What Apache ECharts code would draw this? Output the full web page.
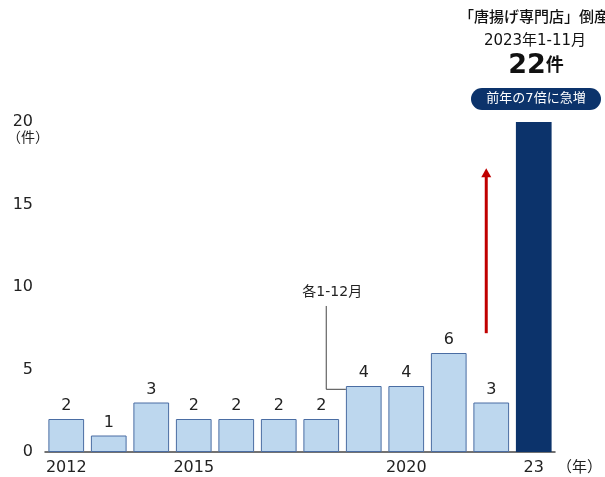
<!DOCTYPE html>
<html>
<head>
<meta charset="utf-8">
<script src="https://cdn.jsdelivr.net/npm/echarts@6/dist/echarts.min.js"></script>
<style>
  html, body { margin: 0; padding: 0; background: #fff; }
  #chart { width: 605px; height: 477px; }
</style>
</head>
<body>
<div id="chart"></div>
<script>
// Annual bankruptcies of karaage (fried chicken) specialty shops
const years = ['2012', '2013', '2014', '2015', '2016', '2017', '2018', '2019', '2020', '2021', '2022', '2023'];
const counts = [2, 1, 3, 2, 2, 2, 2, 4, 4, 6, 3, 22];
const yearTickLabels = { '2012': '2012', '2015': '2015', '2020': '2020', '2023': '23' };
const yTicks = [0, 5, 10, 15, 20];

const FONT = '"DejaVu Sans", "Noto Sans CJK JP", sans-serif';
const LIGHT = '#bdd7ee';
const NAVY = '#0c336b';

const chart = echarts.init(document.getElementById('chart'), null, { renderer: 'canvas' });

const barData = counts.map((v, i) => {
  const last = i === counts.length - 1;
  return {
    value: v,
    itemStyle: last
      ? { color: NAVY, borderColor: NAVY, borderWidth: 0 }
      : { color: LIGHT, borderColor: '#4a6da3', borderWidth: 1 },
    label: { show: !last }
  };
});

chart.setOption({
  animation: false,
  textStyle: { fontFamily: FONT },
  grid: { left: 45, right: 48, top: 122, bottom: 25 },
  xAxis: {
    type: 'category',
    data: years,
    axisLine: { lineStyle: { color: '#444', width: 1.5 } },
    axisTick: { show: false },
    axisLabel: {
      interval: 0,
      fontSize: 16,
      color: '#222',
      margin: 8,
      fontFamily: FONT,
      formatter: v => yearTickLabels[v] || ''
    },
    name: '（年）',
    nameLocation: 'end',
    nameGap: 2,
    nameTextStyle: { fontSize: 15, color: '#222', fontFamily: FONT, verticalAlign: 'top', padding: [9, 0, 0, 0] }
  },
  yAxis: {
    type: 'value',
    min: yTicks[0],
    max: yTicks[yTicks.length - 1],
    interval: 5,
    splitLine: { show: false },
    axisLine: { show: false },
    axisTick: { show: false },
    axisLabel: { fontSize: 16, color: '#222', margin: 12, fontFamily: FONT }
  },
  series: [{
    type: 'bar',
    data: barData,
    barCategoryGap: '16%',
    clip: true,
    label: {
      position: 'top',
      distance: 5,
      fontSize: 16,
      color: '#222',
      fontFamily: FONT
    }
  }]
});

function drawOverlay() {
  const px = (cat, val) => chart.convertToPixel({ xAxisIndex: 0, yAxisIndex: 0 }, [cat, val]);
  const arrowBottom = px('2022', 7.2);
  const arrowTop = px('2022', 17.2);
  const ax = arrowBottom[0] - 5;

  const noteTop = px('2018', 8.85);
  const noteCorner = px('2018', 3.8);
  const bandW = px('2019', 0)[0] - px('2018', 0)[0];
  const noteX = noteTop[0] + 5;
  const noteEndX = px('2019', 0)[0] - bandW * 0.42;

  chart.setOption({
    graphic: [
      // y-axis unit
      { type: 'text', left: 7, top: 131, style: { text: '（件）', font: '14px ' + FONT, fill: '#222' } },
      // headline block
      { type: 'text', x: 534, y: 18, style: { text: '「唐揚げ専門店」倒産', font: '500 15px ' + FONT, fill: '#111', align: 'center', verticalAlign: 'middle' } },
      { type: 'text', x: 535, y: 41, style: { text: '2023年1-11月', font: '15px ' + FONT, fill: '#111', align: 'center', verticalAlign: 'middle' } },
      {
        type: 'text', x: 536, y: 66,
        style: {
          text: '{n|22}{u|件}',
          align: 'center', verticalAlign: 'middle',
          rich: {
            n: { font: 'bold 27px ' + FONT, fill: '#111' },
            u: { font: 'bold 18px ' + FONT, fill: '#111' }
          }
        }
      },
      { type: 'rect', shape: { x: 471, y: 88, width: 130, height: 22, r: 11 }, style: { fill: NAVY } },
      { type: 'text', x: 536, y: 99, style: { text: '前年の7倍に急増', font: '13px ' + FONT, fill: '#fff', align: 'center', verticalAlign: 'middle' } },
      // red rising arrow
      { type: 'line', shape: { x1: ax, y1: arrowBottom[1], x2: ax, y2: arrowTop[1] + 8 }, style: { stroke: '#c00000', lineWidth: 3 } },
      { type: 'polygon', shape: { points: [[ax, arrowTop[1]], [ax - 5, arrowTop[1] + 9], [ax + 5, arrowTop[1] + 9]] }, style: { fill: '#c00000' } },
      // period note with leader line
      { type: 'polyline', shape: { points: [[noteX, noteTop[1]], [noteX, noteCorner[1]], [noteEndX, noteCorner[1]]] }, style: { stroke: '#444', lineWidth: 1, fill: null } },
      { type: 'text', x: noteX + 6, y: noteTop[1] - 14, style: { text: '各1-12月', font: '14px ' + FONT, fill: '#222', align: 'center', verticalAlign: 'middle' } }
    ]
  });
}
drawOverlay();
</script>
</body>
</html>
